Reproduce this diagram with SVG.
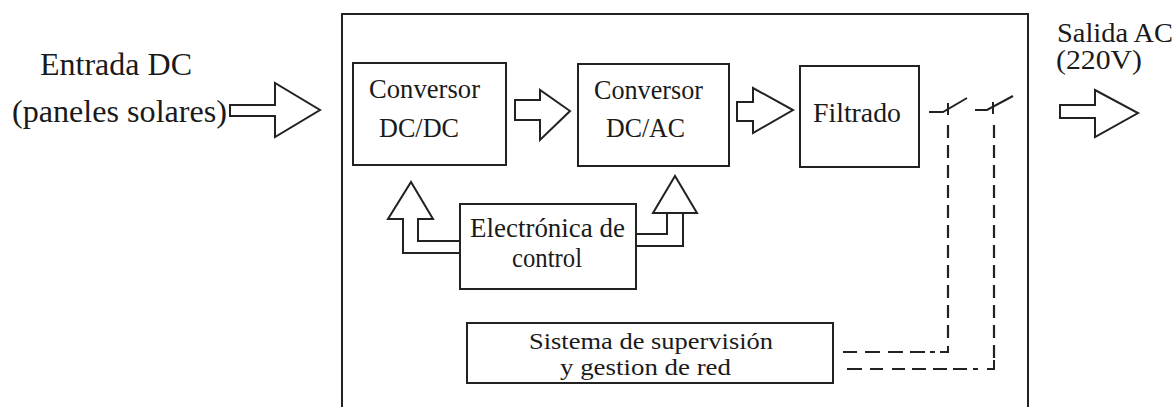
<svg xmlns="http://www.w3.org/2000/svg" width="1176" height="407" viewBox="0 0 1176 407">
<style>
.box{fill:none;stroke:#222;stroke-width:2}
.arr{fill:#fff;stroke:#222;stroke-width:2;stroke-linejoin:miter}
.ln{fill:none;stroke:#222;stroke-width:2}
.dash{fill:none;stroke:#222;stroke-width:2.2;stroke-dasharray:13,7}
</style>
<rect width="1176" height="407" fill="#fff"/>
<g id="inverter">
<path class="box" d="M342,410 V14 H1028 V410"/>
</g>
<g font-family="Liberation Serif" fill="#1a1a1a">
<g id="input">
<text font-size="32" x="40" y="75" textLength="152" lengthAdjust="spacingAndGlyphs">Entrada DC</text>
<text font-size="32" x="12" y="122" textLength="215" lengthAdjust="spacingAndGlyphs">(paneles solares)</text>
</g>
<g id="dcdc">
<rect class="box" x="353" y="63" width="153" height="102"/>
<text font-size="27" x="369" y="98" textLength="111" lengthAdjust="spacingAndGlyphs">Conversor</text>
<text font-size="27" x="379" y="137" textLength="80" lengthAdjust="spacingAndGlyphs">DC/DC</text>
</g>
<g id="dcac">
<rect class="box" x="578" y="64" width="151" height="102"/>
<text font-size="27" x="594" y="99" textLength="109" lengthAdjust="spacingAndGlyphs">Conversor</text>
<text font-size="27" x="606" y="137" textLength="79" lengthAdjust="spacingAndGlyphs">DC/AC</text>
</g>
<g id="filtrado">
<rect class="box" x="800" y="66" width="119" height="101"/>
<text font-size="27" x="813" y="122" textLength="88" lengthAdjust="spacingAndGlyphs">Filtrado</text>
</g>
<g id="control">
<rect class="box" x="460" y="204" width="176" height="85"/>
<text font-size="27" x="470" y="237" textLength="155" lengthAdjust="spacingAndGlyphs">Electrónica de</text>
<text font-size="27" x="512" y="267" textLength="70" lengthAdjust="spacingAndGlyphs">control</text>
</g>
<g id="supervision">
<rect class="box" x="467" y="323" width="366" height="60"/>
<text font-size="23" x="529" y="349" textLength="244" lengthAdjust="spacingAndGlyphs">Sistema de supervisión</text>
<text font-size="23" x="560" y="375" textLength="171" lengthAdjust="spacingAndGlyphs">y gestion de red</text>
</g>
<g id="output">
<text font-size="27" x="1057" y="42" textLength="116" lengthAdjust="spacingAndGlyphs">Salida AC</text>
<text font-size="27" x="1056" y="69" textLength="86" lengthAdjust="spacingAndGlyphs">(220V)</text>
</g>
</g>
<g id="connectors">
<polygon class="arr" points="230,105 275,105 275,83 320,110 275,137 275,116 230,116"/>
<polygon class="arr" points="515,100 540,100 540,90 570,111 540,140 540,120 515,120"/>
<polygon class="arr" points="737,102 753,102 753,88 793,110 753,133 753,121 737,121"/>
<polygon class="arr" points="1060,105 1095,105 1095,90 1138,113 1095,137 1095,118 1060,118"/>
<polygon class="arr" points="460,241 418,241 418,219 433,219 411,182 388,219 403,219 403,253 460,253"/>
<polygon class="arr" points="636,234 667,234 667,213 697,213 675,176 653,213 683,213 683,246 636,246"/>
<path class="ln" d="M929,112 H943 L967,98 M948,103 V115"/>
<path class="ln" d="M975,110 H987 L1013,96 M993,102 V114"/>
<path class="dash" d="M948,125 V345"/>
<path class="ln" d="M948,346 V352 H940"/>
<path class="ln" stroke-width="2.2" d="M843,352 H857 M865,352 H880 M888,352 H903 M910,352 H925 M930,352 H935"/>
<path class="dash" d="M994,125 V358"/>
<path class="ln" d="M994,360 V369 H987"/>
<path class="ln" stroke-width="2.2" d="M847,369 H862 M870,369 H883 M892,369 H905 M912,369 H926 M933,369 H947 M953,369 H967 M973,369 H978"/>
</g>
</svg>
